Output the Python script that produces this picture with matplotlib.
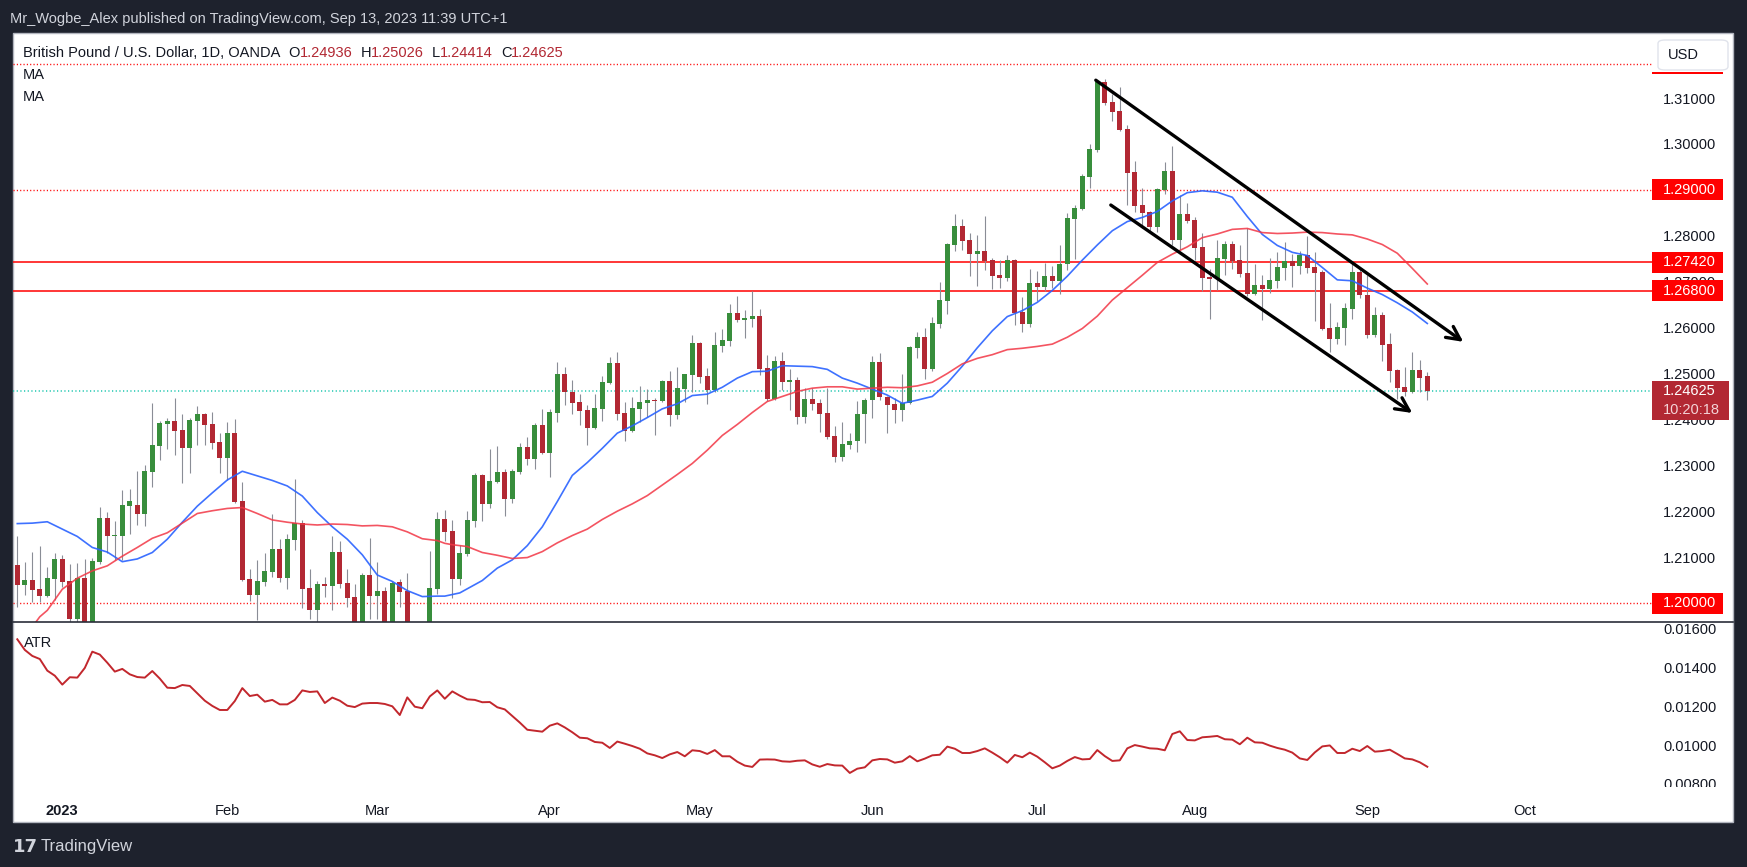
import numpy as np
import pandas as pd
import matplotlib
matplotlib.use("Agg")
import matplotlib.pyplot as plt
import matplotlib.transforms as mtransforms
from matplotlib.patches import Rectangle, FancyBboxPatch
from matplotlib.lines import Line2D
from matplotlib.ticker import FormatStrFormatter

# GBPUSD daily candles, 2022-12-23 .. 2023-09-13
open_ = [1.2083, 1.2039, 1.2050, 1.2031, 1.2015, 1.2052,
         1.2096, 1.2048, 1.1965, 1.2055, 1.1930, 1.2089, 1.2185, 1.2147, 1.2147, 1.2211, 1.2214,
         1.2194, 1.2285, 1.2343, 1.2391, 1.2397, 1.2377, 1.2338, 1.2397, 1.2412, 1.2390, 1.2351,
         1.2316, 1.2370, 1.2222, 1.2052, 1.2017, 1.2046, 1.2068, 1.2118, 1.2055, 1.2137, 1.2174,
         1.2033, 1.1985, 1.2041, 1.2037, 1.2111, 1.2044, 1.2013, 1.1945, 1.2061,
         1.2015, 1.2026, 1.1942, 1.2046, 1.2026, 1.1823, 1.1825, 1.1945, 1.2031, 1.2183, 1.2157,
         1.2052, 1.2107, 1.2179, 1.2279, 1.2216, 1.2264, 1.2285, 1.2227, 1.2285, 1.2340, 1.2314, 1.2388,
         1.2327, 1.2414, 1.2499, 1.2460, 1.2438, 1.2421, 1.2381, 1.2423, 1.2479, 1.2523, 1.2414,
         1.2375, 1.2423, 1.2436, 1.2442, 1.2440, 1.2484, 1.2410, 1.2466, 1.2497,
         1.2566, 1.2495, 1.2464, 1.2560, 1.2571, 1.2632, 1.2617, 1.2619, 1.2625, 1.2512, 1.2444,
         1.2527, 1.2482, 1.2486, 1.2405, 1.2444, 1.2436, 1.2414, 1.2364, 1.2318, 1.2344, 1.2353, 1.2412,
         1.2442, 1.2525, 1.2449, 1.2434, 1.2421, 1.2436, 1.2556, 1.2580, 1.2510, 1.2608, 1.2658,
         1.2780, 1.2821, 1.2791, 1.2760, 1.2767, 1.2747, 1.2715, 1.2708, 1.2747, 1.2634, 1.2608,
         1.2697, 1.2689, 1.2712, 1.2702, 1.2739, 1.2837, 1.2858, 1.2928, 1.2987, 1.3135, 1.3092,
         1.3072, 1.3033, 1.2939, 1.2867, 1.2852, 1.2819, 1.2900, 1.2941, 1.2791, 1.2848,
         1.2834, 1.2776, 1.2710, 1.2706, 1.2750, 1.2782, 1.2747, 1.2719, 1.2673, 1.2693, 1.2684,
         1.2702, 1.2730, 1.2745, 1.2734, 1.2758, 1.2732, 1.2721, 1.2599, 1.2575, 1.2599, 1.2641, 1.2721,
         1.2671, 1.2584, 1.2628, 1.2564, 1.2508, 1.2471, 1.2460, 1.2508, 1.24936]
high = [1.2146, 1.2089, 1.2111, 1.2124, 1.2078, 1.2108,
        1.2105, 1.2085, 1.2087, 1.2095, 1.2098, 1.2210, 1.2198, 1.2179, 1.2246, 1.2249, 1.2288,
        1.2301, 1.2436, 1.2397, 1.2403, 1.2447, 1.2412, 1.2403, 1.2429, 1.2413, 1.2416, 1.2370,
        1.2394, 1.2401, 1.2264, 1.2074, 1.2094, 1.2109, 1.2194, 1.2139, 1.2150, 1.2270, 1.2181,
        1.2074, 1.2048, 1.2057, 1.2146, 1.2135, 1.2074, 1.2041, 1.2065, 1.2142,
        1.2089, 1.2035, 1.2048, 1.2052, 1.2065, 1.1870, 1.1950, 1.2113, 1.2198, 1.2203, 1.2181,
        1.2126, 1.2200, 1.2283, 1.2281, 1.2336, 1.2342, 1.2292, 1.2292, 1.2349, 1.2362, 1.2392, 1.2423,
        1.2423, 1.2525, 1.2514, 1.2486, 1.2455, 1.2431, 1.2455, 1.2495, 1.2536, 1.2547, 1.2438,
        1.2449, 1.2473, 1.2466, 1.2447, 1.2486, 1.2505, 1.2514, 1.2500, 1.2584,
        1.2569, 1.2512, 1.2590, 1.2597, 1.2651, 1.2669, 1.2638, 1.2680, 1.2641, 1.2540, 1.2538,
        1.2547, 1.2510, 1.2492, 1.2468, 1.2468, 1.2444, 1.2468, 1.2386, 1.2394, 1.2370, 1.2440, 1.2447,
        1.2538, 1.2545, 1.2450, 1.2447, 1.2499, 1.2560, 1.2590, 1.2599, 1.2623, 1.2699, 1.2784,
        1.2848, 1.2837, 1.2806, 1.2802, 1.2843, 1.2752, 1.2747, 1.2758, 1.2750, 1.2667, 1.2728,
        1.2723, 1.2741, 1.2734, 1.2780, 1.2850, 1.2867, 1.2935, 1.3000, 1.3139, 1.3142, 1.3109,
        1.3124, 1.3041, 1.2963, 1.2904, 1.2854, 1.2904, 1.2961, 1.2996, 1.2889, 1.2872,
        1.2841, 1.2806, 1.2728, 1.2791, 1.2789, 1.2789, 1.2780, 1.2817, 1.2739, 1.2715, 1.2752,
        1.2765, 1.2787, 1.2760, 1.2767, 1.2800, 1.2765, 1.2726, 1.2654, 1.2612, 1.2654, 1.2741, 1.2732,
        1.2715, 1.2645, 1.2634, 1.2588, 1.2510, 1.2514, 1.2547, 1.2529, 1.25026]
low = [1.1992, 1.2017, 1.2003, 1.2003, 1.2014, 1.2007,
       1.2034, 1.1899, 1.1942, 1.1919, 1.1841, 1.2086, 1.2109, 1.2094, 1.2094, 1.2150, 1.2170,
       1.2168, 1.2253, 1.2312, 1.2336, 1.2322, 1.2261, 1.2283, 1.2344, 1.2344, 1.2336, 1.2283,
       1.2268, 1.2218, 1.2048, 1.2004, 1.1962, 1.2037, 1.2057, 1.2046, 1.2031, 1.2116, 1.1989,
       1.1965, 1.1915, 1.2013, 1.1985, 1.2033, 1.1991, 1.1924, 1.1930, 1.1965,
       1.1965, 1.1923, 1.1940, 1.1991, 1.1805, 1.1803, 1.1810, 1.1915, 1.2020, 1.2135, 1.2011,
       1.2040, 1.2102, 1.2166, 1.2179, 1.2207, 1.2261, 1.2190, 1.2218, 1.2281, 1.2301, 1.2292, 1.2325,
       1.2275, 1.2394, 1.2431, 1.2412, 1.2388, 1.2344, 1.2379, 1.2397, 1.2477, 1.2399, 1.2353,
       1.2373, 1.2394, 1.2405, 1.2366, 1.2438, 1.2386, 1.2401, 1.2438, 1.2460,
       1.2479, 1.2434, 1.2460, 1.2547, 1.2560, 1.2612, 1.2577, 1.2601, 1.2497, 1.2440, 1.2442,
       1.2464, 1.2421, 1.2390, 1.2392, 1.2421, 1.2373, 1.2357, 1.2307, 1.2309, 1.2336, 1.2329, 1.2349,
       1.2403, 1.2442, 1.2370, 1.2392, 1.2397, 1.2434, 1.2534, 1.2488, 1.2505, 1.2599, 1.2630,
       1.2767, 1.2769, 1.2712, 1.2691, 1.2726, 1.2684, 1.2686, 1.2702, 1.2606, 1.2590, 1.2601,
       1.2658, 1.2680, 1.2686, 1.2673, 1.2726, 1.2750, 1.2856, 1.2904, 1.2983, 1.3085, 1.3050,
       1.3028, 1.2867, 1.2852, 1.2817, 1.2808, 1.2808, 1.2891, 1.2780, 1.2769, 1.2828,
       1.2747, 1.2680, 1.2619, 1.2682, 1.2715, 1.2728, 1.2710, 1.2669, 1.2671, 1.2617, 1.2675,
       1.2686, 1.2704, 1.2689, 1.2717, 1.2719, 1.2614, 1.2595, 1.2547, 1.2564, 1.2562, 1.2619, 1.2665,
       1.2577, 1.2580, 1.2527, 1.2482, 1.2444, 1.2451, 1.2458, 1.2460, 1.24414]
close = [1.2039, 1.2050, 1.2028, 1.2015, 1.2055, 1.2096,
         1.2046, 1.1965, 1.2055, 1.1930, 1.2092, 1.2185, 1.2147, 1.2149, 1.2214, 1.2222, 1.2194,
         1.2288, 1.2344, 1.2392, 1.2397, 1.2375, 1.2338, 1.2399, 1.2412, 1.2388, 1.2349, 1.2316,
         1.2370, 1.2220, 1.2050, 1.2017, 1.2048, 1.2070, 1.2118, 1.2055, 1.2139, 1.2174, 1.2031,
         1.1985, 1.2041, 1.2037, 1.2111, 1.2041, 1.2011, 1.1942, 1.2061, 1.2015,
         1.2026, 1.1940, 1.2044, 1.2024, 1.1823, 1.1825, 1.1945, 1.2033, 1.2183, 1.2155, 1.2052,
         1.2109, 1.2181, 1.2279, 1.2216, 1.2266, 1.2285, 1.2227, 1.2288, 1.2340, 1.2314, 1.2388, 1.2327,
         1.2416, 1.2499, 1.2460, 1.2436, 1.2418, 1.2381, 1.2425, 1.2482, 1.2523, 1.2412, 1.2375,
         1.2425, 1.2438, 1.2442, 1.2440, 1.2484, 1.2410, 1.2468, 1.2499, 1.2566,
         1.2492, 1.2464, 1.2562, 1.2573, 1.2632, 1.2617, 1.2621, 1.2625, 1.2510, 1.2444, 1.2527,
         1.2482, 1.2486, 1.2405, 1.2444, 1.2434, 1.2412, 1.2362, 1.2318, 1.2346, 1.2353, 1.2412, 1.2442,
         1.2525, 1.2449, 1.2431, 1.2421, 1.2436, 1.2558, 1.2580, 1.2510, 1.2610, 1.2660, 1.2782,
         1.2821, 1.2789, 1.2760, 1.2767, 1.2745, 1.2712, 1.2708, 1.2747, 1.2632, 1.2608, 1.2697,
         1.2689, 1.2712, 1.2702, 1.2739, 1.2839, 1.2861, 1.2930, 1.2989, 1.3135, 1.3089, 1.3070,
         1.3031, 1.2937, 1.2865, 1.2850, 1.2819, 1.2902, 1.2941, 1.2791, 1.2848, 1.2832,
         1.2773, 1.2708, 1.2706, 1.2752, 1.2782, 1.2745, 1.2717, 1.2673, 1.2693, 1.2684, 1.2704,
         1.2732, 1.2745, 1.2734, 1.2758, 1.2730, 1.2719, 1.2597, 1.2575, 1.2601, 1.2643, 1.2721, 1.2670,
         1.2584, 1.2628, 1.2562, 1.2505, 1.2468, 1.2460, 1.2508, 1.2490, 1.24625]

# moving averages, sampled at bar positions (0 = 2022-12-23)
ma_fast_bar = [0, 2, 4, 6, 8, 10, 12, 14, 16, 18, 20, 22, 24, 26, 28, 30, 32, 34, 36, 38, 40, 42,
               44, 46, 48, 50, 52, 54, 56, 57, 59, 62, 64, 66, 68, 70, 72, 74, 76, 78, 80, 82, 84,
               86, 88, 90, 92, 94, 96, 98, 100, 102, 104, 106, 108, 110, 112, 114, 116, 118, 120,
               122, 124, 126, 128, 130, 132, 134, 136, 138, 140, 142, 144, 146, 148, 150, 152, 154,
               156, 158, 160, 162, 164, 166, 168, 170, 172, 174, 176, 178, 180, 182, 184, 186, 188]
ma_fast = [1.2173, 1.2174, 1.2177, 1.2161, 1.2145, 1.2121, 1.2111, 1.2090, 1.2096, 1.2110, 1.2139,
           1.2176, 1.2211, 1.2240, 1.2268, 1.2287, 1.2277, 1.2267, 1.2255, 1.2233, 1.2197, 1.2166,
           1.2139, 1.2105, 1.2061, 1.2047, 1.2027, 1.2014, 1.2015, 1.2015, 1.2022, 1.2049, 1.2076,
           1.2094, 1.2125, 1.2166, 1.2221, 1.2278, 1.2306, 1.2337, 1.2370, 1.2386, 1.2404, 1.2423,
           1.2434, 1.2452, 1.2455, 1.2470, 1.2490, 1.2504, 1.2505, 1.2517, 1.2516, 1.2515, 1.2509,
           1.2490, 1.2479, 1.2466, 1.2453, 1.2435, 1.2442, 1.2450, 1.2479, 1.2516, 1.2556, 1.2593,
           1.2624, 1.2637, 1.2655, 1.2681, 1.2712, 1.2747, 1.2780, 1.2811, 1.2831, 1.2840, 1.2853,
           1.2876, 1.2894, 1.2898, 1.2895, 1.2884, 1.2842, 1.2803, 1.2779, 1.2764, 1.2757, 1.2731,
           1.2704, 1.2702, 1.2686, 1.2672, 1.2654, 1.2634, 1.2609]
ma_slow_bar = [0, 1, 2, 3, 4, 6, 8, 10, 12, 14, 16, 18, 20, 22, 24, 26, 28, 30, 32, 34, 36, 38, 40,
               42, 44, 46, 48, 50, 52, 54, 56, 57, 58, 60, 62, 64, 66, 68, 70, 72, 74, 76, 78, 80,
               82, 84, 86, 88, 90, 92, 94, 96, 98, 100, 102, 104, 106, 108, 110, 112, 114, 116, 118,
               120, 122, 124, 126, 128, 130, 132, 134, 136, 138, 140, 142, 144, 146, 148, 150, 152,
               154, 156, 158, 160, 162, 164, 166, 168, 170, 172, 174, 176, 178, 180, 182, 184, 186, 188]
ma_slow = [1.1919, 1.1936, 1.1948, 1.1970, 1.1984, 1.2030, 1.2054, 1.2070, 1.2081, 1.2102, 1.2121,
           1.2141, 1.2153, 1.2174, 1.2195, 1.2201, 1.2206, 1.2208, 1.2195, 1.2181, 1.2176, 1.2172,
           1.2170, 1.2172, 1.2171, 1.2168, 1.2169, 1.2166, 1.2155, 1.2140, 1.2136, 1.2130, 1.2127,
           1.2123, 1.2110, 1.2104, 1.2097, 1.2099, 1.2112, 1.2131, 1.2147, 1.2161, 1.2182, 1.2200,
           1.2216, 1.2234, 1.2257, 1.2280, 1.2304, 1.2333, 1.2365, 1.2389, 1.2415, 1.2439, 1.2450,
           1.2461, 1.2468, 1.2471, 1.2471, 1.2466, 1.2468, 1.2470, 1.2469, 1.2473, 1.2481, 1.2500,
           1.2521, 1.2533, 1.2541, 1.2552, 1.2555, 1.2559, 1.2564, 1.2579, 1.2598, 1.2625, 1.2660,
           1.2687, 1.2714, 1.2742, 1.2760, 1.2776, 1.2796, 1.2804, 1.2814, 1.2816, 1.2807, 1.2805,
           1.2806, 1.2808, 1.2807, 1.2804, 1.2802, 1.2793, 1.2781, 1.2762, 1.2729, 1.2695]

atr = [0.01547, 0.01492, 0.01461, 0.01445, 0.01385, 0.01359, 0.01313, 0.01351, 0.01349, 0.01399,
       0.01483, 0.01468, 0.01426, 0.01380, 0.01394, 0.01366, 0.01352, 0.01349, 0.01383, 0.01344,
       0.01297, 0.01295, 0.01311, 0.01306, 0.01268, 0.01230, 0.01203, 0.01182, 0.01182, 0.01228,
       0.01295, 0.01254, 0.01261, 0.01225, 0.01234, 0.01211, 0.01211, 0.01234, 0.01283, 0.01275,
       0.01278, 0.01218, 0.01246, 0.01230, 0.01204, 0.01197, 0.01215, 0.01218, 0.01218, 0.01213,
       0.01201, 0.01156, 0.01247, 0.01199, 0.01191, 0.01252, 0.01283, 0.01240, 0.01278, 0.01256,
       0.01237, 0.01234, 0.01222, 0.01223, 0.01196,
       0.01185, 0.01151, 0.01117, 0.01080, 0.01075, 0.01070, 0.01101, 0.01113, 0.01092, 0.01067,
       0.01039, 0.01036, 0.01017, 0.01013, 0.00986, 0.01019, 0.01008, 0.00996, 0.00982, 0.00958,
       0.00948, 0.00934, 0.00953, 0.00965, 0.00943, 0.00974, 0.00970, 0.00955, 0.00975, 0.00943,
       0.00943, 0.00915, 0.00895, 0.00888, 0.00926, 0.00927, 0.00926, 0.00917, 0.00915, 0.00920,
       0.00922, 0.00901, 0.00889, 0.00903, 0.00896, 0.00895, 0.00857, 0.00879, 0.00886, 0.00922,
       0.00929, 0.00927, 0.00910, 0.00917, 0.00944, 0.00917, 0.00931, 0.00948, 0.00951, 0.00993,
       0.00982, 0.00960, 0.00960, 0.00970, 0.00984, 0.00962, 0.00938,
       0.00910, 0.00950, 0.00938, 0.00962, 0.00941, 0.00912, 0.00881, 0.00895, 0.00919, 0.00939,
       0.00927, 0.00929, 0.00975, 0.00944, 0.00919, 0.00922, 0.00984, 0.01001, 0.00993, 0.00984,
       0.00982, 0.00974, 0.01058, 0.01072, 0.01027, 0.01025, 0.01041, 0.01044, 0.01048, 0.01031,
       0.01029, 0.01005, 0.01039, 0.01015, 0.01013, 0.00998, 0.00986, 0.00977, 0.00962, 0.00932,
       0.00924, 0.00963, 0.00994, 0.00999, 0.00960, 0.00960, 0.00982, 0.00970, 0.00996, 0.00967,
       0.00970, 0.00977, 0.00955, 0.00932, 0.00927, 0.00912, 0.00889]

levels_solid = [1.2742, 1.2680]
levels_dotted = [1.3174, 1.2900, 1.2000]
# hand-drawn channel: (bar, price) start and arrow tip
channel_upper = [(143.8, 1.3139), (192.8, 1.2569)]
channel_lower = [(145.8, 1.2867), (186.0, 1.2414)]

W, H = 1747, 867
DARK = "#1e222d"
TXT = "#131722"
UP, DOWN = "#388e3c", "#b22833"
plt.rcParams["font.family"] = ["Liberation Sans", "DejaVu Sans"]

def frect(x0, y0, x1, y1):
    return [x0 / W, 1 - y1 / H, (x1 - x0) / W, (y1 - y0) / H]

fig = plt.figure(figsize=(W / 100, H / 100), dpi=100, facecolor=DARK)
fig.add_artist(Rectangle((13 / W, 1 - 822 / H), 1720 / W, 789 / H, transform=fig.transFigure,
                         fc="white", ec="#b2b5be", lw=1, zorder=-1))

ax = fig.add_axes(frect(13, 34, 1652, 622))
atr_ax = fig.add_axes(frect(13, 622, 1652, 787), sharex=ax)
for a in (ax, atr_ax):
    a.set_facecolor("none")
    for s in a.spines.values():
        s.set_visible(False)
    a.yaxis.tick_right()
    a.tick_params(axis="y", length=0, pad=8, labelsize=10.5, labelcolor=TXT)
    a.tick_params(axis="x", length=0)

x = np.arange(len(close))
o, h, l, c = map(np.array, (open_, high, low, close))
up = c >= o
ax.vlines(x, l, h, color="#8a8d96", lw=0.8, zorder=2)
ax.bar(x, np.maximum(np.abs(c - o), 0.00022), bottom=np.minimum(o, c), width=0.66,
       color=np.where(up, UP, DOWN), lw=0, zorder=3)

ax.plot(ma_fast_bar, ma_fast, color="#2962ff", lw=1.2, alpha=0.9, zorder=4)
ax.plot(ma_slow_bar, ma_slow, color="#f23645", lw=1.2, alpha=0.85, zorder=4)

for lv in levels_solid:
    ax.axhline(lv, color="#ff0000", lw=1.1, zorder=1)
for lv in levels_dotted:
    ax.axhline(lv, color="#ff0000", lw=1.0, ls=(0, (0.8, 1.6)), zorder=1)
ax.axhline(close[-1], color="#1fc7b0", lw=1.1, ls=(0, (0.8, 1.6)), zorder=1)

for start, tip in (channel_upper, channel_lower):
    ax.annotate("", xy=tip, xytext=start, annotation_clip=False,
                arrowprops=dict(arrowstyle="->", color="black", lw=2.4, mutation_scale=24,
                                shrinkA=0, shrinkB=0), zorder=6)

ax.set_xlim(-0.573, 217.96)
ax.set_ylim(1.195861, 1.323965)
ax.set_yticks(np.round(np.arange(1.20, 1.315, 0.01), 2))
ax.yaxis.set_major_formatter(FormatStrFormatter("%.5f"))
ax.tick_params(axis="x", labelbottom=False)

atr_ax.plot(x, atr, color="#c2272d", lw=1.4)
atr_ax.set_ylim(0.007845, 0.016361)
atr_ax.set_yticks([0.008, 0.010, 0.012, 0.014, 0.016])
atr_ax.yaxis.set_major_formatter(FormatStrFormatter("%.5f"))
clip = mtransforms.TransformedBbox(mtransforms.Bbox([[1652 / W, 1 - 787 / H], [1733 / W, 1 - 622 / H]]),
                                   fig.transFigure)
for t in atr_ax.get_yticklabels():
    t.set_clip_box(clip)
    t.set_clip_on(True)

# month labels on the time scale
days = pd.bdate_range("2022-12-23", "2023-10-31")
first = [i for i in range(1, len(days)) if days[i].month != days[i - 1].month]
atr_ax.set_xticks(first)
atr_ax.set_xticklabels([str(days[i].year) if days[i].month == 1 else days[i].strftime("%b")
                        for i in first])
atr_ax.tick_params(axis="x", pad=12, labelsize=10.5, labelcolor=TXT)
atr_ax.get_xticklabels()[0].set_fontweight("bold")

# price-scale boxes
AXW, AXH = 1639, 588
yspan = 1.323965 - 1.195861
tr = mtransforms.blended_transform_factory(ax.transAxes, ax.transData)

def scale_box(y, color, up_px, down_px, right_px):
    s = yspan / AXH
    ax.add_patch(Rectangle((1.0, y - down_px * s), (right_px - 1652) / AXW, (up_px + down_px) * s,
                           transform=tr, fc=color, lw=0, clip_on=False, zorder=7))

def scale_text(y, s, color="white", dy_px=0):
    ax.text(1.0 + 11 / AXW, y - dy_px * yspan / AXH, s, transform=tr, color=color, fontsize=10.5,
            va="center", ha="left", clip_on=False, zorder=8)

for lv in levels_solid + levels_dotted[1:]:
    scale_box(lv, "#ff0000", 10.5, 10.5, 1723)
    scale_text(lv, "%.5f" % lv)
# label of the top level sits under the currency button; only its lower edge shows
scale_box(levels_dotted[0], "#ff0000", -8, 10, 1723)
scale_box(close[-1], DOWN, 10, 29, 1729)
scale_text(close[-1], "%.5f" % close[-1])
scale_text(close[-1], "10:20:18", color="#f3d3d7", dy_px=19)

fig.add_artist(FancyBboxPatch((1658 / W, 1 - 70 / H), 70 / W, 30 / H, transform=fig.transFigure,
                              boxstyle="round,pad=0,rounding_size=0.004", fc="white",
                              ec="#e0e3eb", lw=1, zorder=10))
fig.text(1668 / W, 1 - 55 / H, "USD", color=TXT, fontsize=10.5, va="center", zorder=11)

# legends and header
fig.text(10 / W, 1 - 19 / H, "Mr_Wogbe_Alex published on TradingView.com, Sep 13, 2023 11:39 UTC+1",
         color="#d1d4dc", fontsize=10.5, va="center")
renderer = fig.canvas.get_renderer()
runs = [("British Pound / U.S. Dollar, 1D, OANDA", TXT, 8), ("O", TXT, 0), ("%.5f" % open_[-1], DOWN, 8),
        ("H", TXT, 0), ("%.5f" % high[-1], DOWN, 8), ("L", TXT, 0), ("%.5f" % low[-1], DOWN, 8),
        ("C", TXT, 0), ("%.5f" % close[-1], DOWN, 0)]
xpos = 23
for s, col, gap in runs:
    t = fig.text(xpos / W, 1 - 53 / H, s, color=col, fontsize=10.5, va="center")
    xpos += t.get_window_extent(renderer).width + gap
fig.text(23 / W, 1 - 75 / H, "MA", color=TXT, fontsize=10.5, va="center")
fig.text(23 / W, 1 - 97 / H, "MA", color=TXT, fontsize=10.5, va="center")
fig.text(24 / W, 1 - 643 / H, "ATR", color=TXT, fontsize=10.5, va="center")

fig.add_artist(Line2D([13 / W, 1733 / W], [1 - 622 / H] * 2, color="#2a2e39", lw=1.2))

fig.text(13 / W, 1 - 847 / H, "17", color="#d1d4dc", fontsize=13, fontweight="bold",
         family="DejaVu Sans", va="center")
fig.text(41 / W, 1 - 847 / H, "TradingView", color="#d1d4dc", fontsize=12, va="center")

fig.savefig("out.png", dpi=100, facecolor=DARK)
